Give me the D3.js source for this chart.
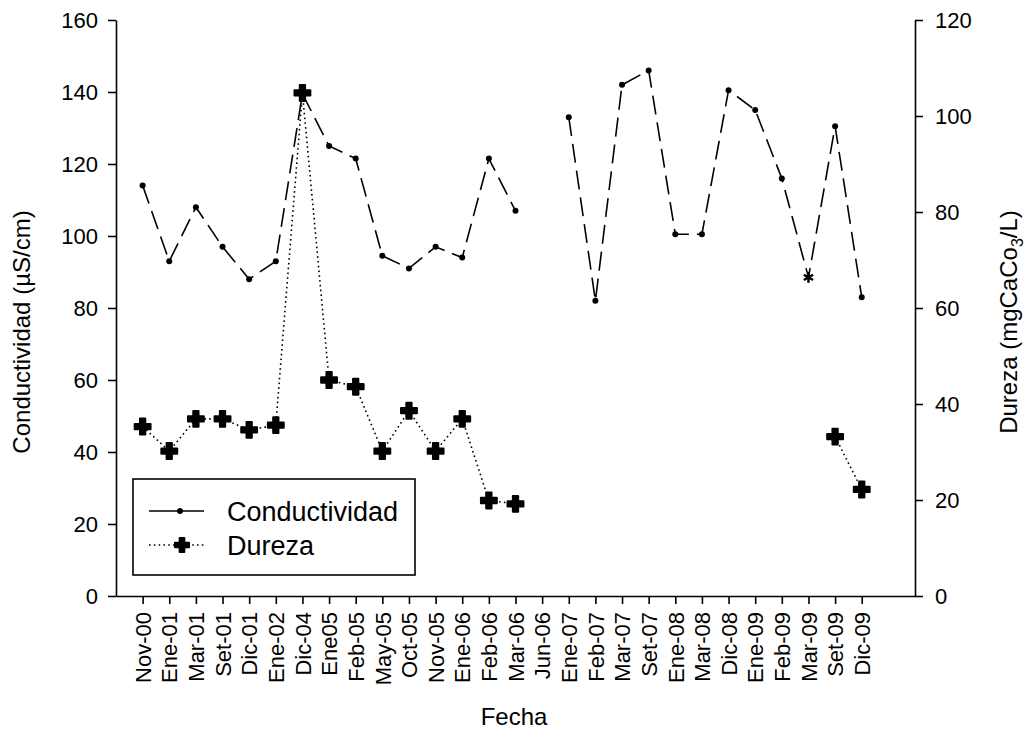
<!DOCTYPE html>
<html>
<head>
<meta charset="utf-8">
<script src="https://cdn.jsdelivr.net/npm/d3@7"></script>
<style>
  html, body { margin: 0; padding: 0; background: #fff; }
  svg { display: block; font-family: "Liberation Sans", Arial, sans-serif; }
</style>
</head>
<body>
<svg id="chart" width="1027" height="738"></svg>
<script>
// Sampling dates (x categories)
const fechas = ["Nov-00","Ene-01","Mar-01","Set-01","Dic-01","Ene-02","Dic-04","Ene05","Feb-05","May-05",
  "Oct-05","Nov-05","Ene-06","Feb-06","Mar-06","Jun-06","Ene-07","Feb-07","Mar-07","Set-07",
  "Ene-08","Mar-08","Dic-08","Ene-09","Feb-09","Mar-09","Set-09","Dic-09"];

// Conductividad (µS/cm), left axis; null = no sample
const conductividad = [114, 93, 108, 97, 88, 93, 139.5, 125, 121.5, 94.5,
  91, 97, 94, 121.5, 107, null, 133, 82, 142, 146,
  100.5, 100.5, 140.5, 135, 116, 88.5, 130.5, 83];

// Dureza (mgCaCO3/L), right axis; null = no sample
const dureza = [35.3, 30.2, 36.9, 36.9, 34.6, 35.6, 104.8, 45, 43.6, 30.2,
  38.6, 30.2, 36.9, 19.9, 19.2, null, null, null, null, null,
  null, null, null, null, null, null, 33.2, 22.2];

const leftTicks = [0, 20, 40, 60, 80, 100, 120, 140, 160];
const rightTicks = [0, 20, 40, 60, 80, 100, 120];
const seriesNames = ["Conductividad", "Dureza"];

const svg = d3.select("#chart");
const plotL = 116, plotR = 915, plotT = 20, plotB = 596;

const x = d3.scaleLinear().domain([-1, fechas.length + 1]).range([plotL, plotR]);
const yL = d3.scaleLinear().domain([0, 160]).range([plotB, plotT]);
const yR = d3.scaleLinear().domain([0, 120]).range([plotB, plotT]);

const tickFont = 22;
const titleFont = 24;

// Axes
const gx = svg.append("g").attr("transform", `translate(0,${plotB})`)
  .call(d3.axisBottom(x).tickValues(d3.range(fechas.length)).tickFormat(i => fechas[i])
    .tickSizeInner(8).tickSizeOuter(0).tickPadding(6));
gx.selectAll("text")
  .attr("transform", "rotate(-90)")
  .attr("text-anchor", "end")
  .attr("dy", "0.35em")
  .attr("x", -16)
  .attr("y", 0);

svg.append("g").attr("transform", `translate(${plotL},0)`)
  .call(d3.axisLeft(yL).tickValues(leftTicks).tickSizeInner(8).tickSizeOuter(0).tickPadding(10));

svg.append("g").attr("transform", `translate(${plotR},0)`)
  .call(d3.axisRight(yR).tickValues(rightTicks).tickSizeInner(8).tickSizeOuter(0).tickPadding(12));

svg.selectAll(".domain, .tick line").attr("stroke", "#000").attr("stroke-width", 1.6);
svg.selectAll(".tick text").attr("font-size", tickFont).attr("fill", "#000")
  .attr("font-family", "'Liberation Sans', Arial, sans-serif");

// Axis titles
svg.append("text").attr("x", 514).attr("y", 725).attr("text-anchor", "middle")
  .attr("font-size", titleFont).text("Fecha");
svg.append("text").attr("transform", `translate(30,332) rotate(-90)`).attr("text-anchor", "middle")
  .attr("font-size", titleFont).text("Conductividad (µS/cm)");
const rt = svg.append("text").attr("transform", `translate(1017,322) rotate(-90)`)
  .attr("text-anchor", "middle").attr("font-size", titleFont);
rt.append("tspan").text("Dureza (mgCaCo");
rt.append("tspan").attr("font-size", 16).attr("dy", 6).text("3");
rt.append("tspan").attr("dy", -6).text("/L)");

// Conductividad: long-dash line with small dots
const condPts = conductividad.map((v, i) => ({ i, v }));
svg.append("path")
  .datum(condPts)
  .attr("fill", "none").attr("stroke", "#000").attr("stroke-width", 1.6)
  .attr("stroke-dasharray", "19,8")
  .attr("d", d3.line().defined(d => d.v !== null).x(d => x(d.i)).y(d => yL(d.v)));

// Dureza: dotted line with heavy crosses
const durPts = dureza.map((v, i) => ({ i, v }));
svg.append("path")
  .datum(durPts)
  .attr("fill", "none").attr("stroke", "#000").attr("stroke-width", 1.6)
  .attr("stroke-dasharray", "1.6,3.2")
  .attr("d", d3.line().defined(d => d.v !== null).x(d => x(d.i)).y(d => yR(d.v)));

const crossSym = d3.symbol().type(d3.symbolCross).size(140);
svg.append("g").selectAll("path")
  .data(durPts.filter(d => d.v !== null))
  .join("path")
  .attr("d", crossSym)
  .attr("transform", d => `translate(${x(d.i)},${yR(d.v)})`)
  .attr("fill", "#000").attr("stroke", "#000").attr("stroke-width", 2).attr("stroke-linejoin", "round");

// Conductividad markers (Mar-09 drawn as an asterisk)
const starAt = "Mar-09";
const condMarks = condPts.filter(d => d.v !== null);
svg.append("g").selectAll("circle")
  .data(condMarks.filter(d => fechas[d.i] !== starAt))
  .join("circle")
  .attr("cx", d => x(d.i)).attr("cy", d => yL(d.v)).attr("r", 3)
  .attr("fill", "#000");
const asterisk = d3.symbol().type(d3.symbolAsterisk).size(80);
svg.append("g").selectAll("path")
  .data(condMarks.filter(d => fechas[d.i] === starAt))
  .join("path")
  .attr("d", asterisk)
  .attr("transform", d => `translate(${x(d.i)},${yL(d.v)})`)
  .attr("fill", "none").attr("stroke", "#000").attr("stroke-width", 2.4);

// Legend
const lg = svg.append("g");
lg.append("rect").attr("x", 133).attr("y", 479).attr("width", 282).attr("height", 96)
  .attr("fill", "#fff").attr("stroke", "#000").attr("stroke-width", 1.6);
const rowsY = [511, 545];
seriesNames.forEach((name, k) => {
  const y = rowsY[k];
  const line = lg.append("line").attr("x1", 149).attr("x2", 204).attr("y1", y).attr("y2", y)
    .attr("stroke", "#000").attr("stroke-width", 1.6);
  if (k === 0) {
    lg.append("circle").attr("cx", 180).attr("cy", y).attr("r", 3).attr("fill", "#000");
  } else {
    line.attr("stroke-dasharray", "1.6,3.2");
    lg.append("path").attr("d", d3.symbol().type(d3.symbolCross).size(110))
      .attr("transform", `translate(182,${y})`).attr("fill", "#000")
      .attr("stroke", "#000").attr("stroke-width", 2).attr("stroke-linejoin", "round");
  }
  lg.append("text").attr("x", 227).attr("y", y + 10).attr("font-size", 27).text(name);
});
</script>
</body>
</html>
